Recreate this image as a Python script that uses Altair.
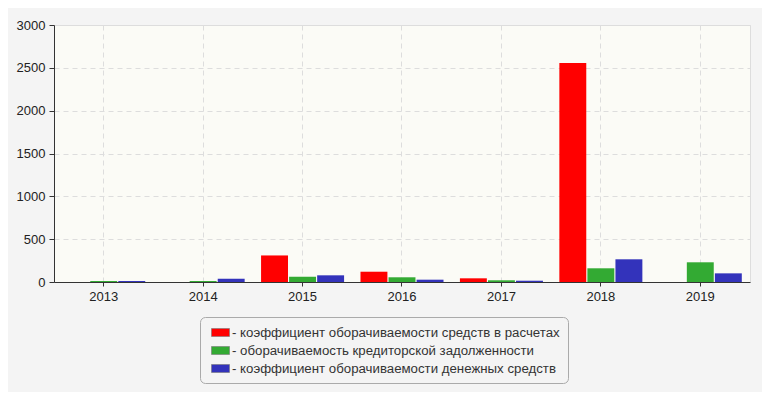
import altair as alt
import pandas as pd

years = ["2013", "2014", "2015", "2016", "2017", "2018", "2019"]
series_names = [
    "коэффициент оборачиваемости средств в расчетах",
    "оборачиваемость кредиторской задолженности",
    "коэффициент оборачиваемости денежных средств",
]
red_vals = [0, 0, 310, 120, 43, 2556, 0]
green_vals = [12, 12, 62, 55, 20, 160, 230]
blue_vals = [12, 38, 78, 27, 15, 265, 101]
colors = ["#FF0000", "#33AA33", "#3333BB"]

rows = []
for i, y in enumerate(years):
    for name, vals in zip(series_names, [red_vals, green_vals, blue_vals]):
        rows.append({"year": y, "series": name, "value": vals[i]})
df = pd.DataFrame(rows)

FONT = "Liberation Sans"

chart = (
    alt.Chart(df)
    .mark_bar()
    .encode(
        x=alt.X(
            "year:N",
            sort=years,
            title=None,
            scale=alt.Scale(paddingInner=0.165, paddingOuter=0.0825),
            axis=alt.Axis(
                labelAngle=0,
                labelFont=FONT,
                labelFontSize=13,
                labelColor="#222222",
                labelPadding=4,
                tickSize=4,
                tickColor="#333333",
                domainColor="#333333",
                grid=True,
                gridColor="#dddddd",
                gridDash=[5, 4],
            ),
        ),
        xOffset=alt.XOffset(
            "series:N",
            sort=series_names,
            scale=alt.Scale(paddingInner=0.04, paddingOuter=0),
        ),
        y=alt.Y(
            "value:Q",
            title=None,
            scale=alt.Scale(domain=[0, 3000], nice=False),
            axis=alt.Axis(
                values=[0, 500, 1000, 1500, 2000, 2500, 3000],
                format="d",
                labelFont=FONT,
                labelFontSize=13,
                labelColor="#222222",
                labelPadding=4,
                tickSize=5,
                tickColor="#333333",
                domainColor="#333333",
                grid=True,
                gridColor="#dddddd",
                gridDash=[5, 4],
            ),
        ),
        color=alt.Color(
            "series:N",
            sort=series_names,
            scale=alt.Scale(domain=series_names, range=colors),
            legend=alt.Legend(
                title=None,
                orient="none",
                legendX=146,
                legendY=292,
                direction="vertical",
                fillColor="#f4f4f4",
                strokeColor="#aaaaaa",
                cornerRadius=5,
                padding=8,
                rowPadding=4,
                symbolType="M-0.57,-0.57H2V0.57H-0.57Z",
                symbolSize=196,
                symbolStrokeColor="#777777",
                symbolStrokeWidth=0.6,
                symbolOpacity=1,
                labelFont=FONT,
                labelFontSize=13.25,
                labelColor="#333333",
                labelOffset=9,
                labelLimit=500,
                labelExpr="'- ' + datum.label",
            ),
        ),
    )
    .properties(
        width=696,
        height=257,
        padding={"left": 46, "top": 17, "right": 12, "bottom": 110},
        autosize=alt.AutoSizeParams(type="none"),
        background="#f4f4f4",
    )
    .configure_view(fill="#fbfbf6", stroke="#dddddd", strokeWidth=1)
)

chart.save("out.html", embed_options={"renderer": "svg", "actions": False})
